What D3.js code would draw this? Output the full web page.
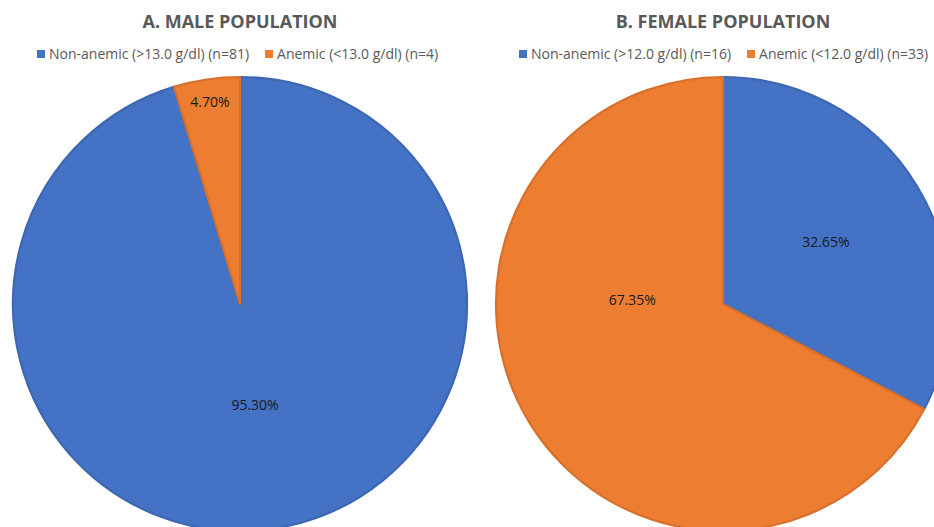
<!DOCTYPE html>
<html>
<head>
<meta charset="utf-8">
<script src="https://cdn.jsdelivr.net/npm/d3@7"></script>
<style>
  body { margin: 0; background: #fff; }
  text { font-family: "Open Sans", sans-serif; }
</style>
</head>
<body>
<div id="chart"></div>
<script>
const width = 934;
const height = 527;

// data
const categories = ["Non-anemic", "Anemic"];
const maleLegend = ["Non-anemic (>13.0 g/dl) (n=81)", "Anemic (<13.0 g/dl) (n=4)"];
const femaleLegend = ["Non-anemic (>12.0 g/dl) (n=16)", "Anemic (<12.0 g/dl) (n=33)"];
const maleValues = [95.30, 4.70];
const femaleValues = [32.65, 67.35];
const titles = ["A. MALE POPULATION", "B. FEMALE POPULATION"];

const colors = ["#4472C4", "#ED7D31"];
const strokes = ["#3D67B2", "#D8702B"];

// label placement inside each slice: [fraction along slice, fraction of radius]
const labelPlace = [
  [[0.5, 0.45], [0.5, 0.9]],
  [[0.5, 0.53], [0.64, 0.4]]
];

const panels = [
  { cx: 240, cy: 304, r: 227, title: titles[0], legend: maleLegend, values: maleValues, legendX: 37 },
  { cx: 723, cy: 304, r: 227, title: titles[1], legend: femaleLegend, values: femaleValues, legendX: 519 }
];

const svg = d3.select("#chart").append("svg")
  .attr("width", width)
  .attr("height", height);

const pie = d3.pie().sort(null).value(d => d);

panels.forEach((p, pi) => {
  const g = svg.append("g");

  const arc = d3.arc().innerRadius(0).outerRadius(p.r);
  const arcs = pie(p.values);

  g.append("g")
    .attr("transform", "translate(" + p.cx + "," + p.cy + ")")
    .selectAll("path")
    .data(arcs)
    .join("path")
    .attr("d", arc)
    .attr("fill", (d, i) => colors[i])
    .attr("stroke", (d, i) => strokes[i])
    .attr("stroke-width", 2.2)
    .attr("stroke-linejoin", "round");

  // data labels
  g.append("g")
    .attr("transform", "translate(" + p.cx + "," + p.cy + ")")
    .selectAll("text")
    .data(arcs)
    .join("text")
    .attr("text-anchor", "middle")
    .attr("dy", "0.35em")
    .attr("font-size", 14)
    .attr("fill", "#1a1a1a")
    .attr("x", (d, i) => {
      const a = d.startAngle + (d.endAngle - d.startAngle) * labelPlace[pi][i][0];
      return Math.sin(a) * p.r * labelPlace[pi][i][1];
    })
    .attr("y", (d, i) => {
      const a = d.startAngle + (d.endAngle - d.startAngle) * labelPlace[pi][i][0];
      return -Math.cos(a) * p.r * labelPlace[pi][i][1];
    })
    .text(d => d.data.toFixed(2) + "%");

  // title
  g.append("text")
    .attr("x", p.cx)
    .attr("y", 28)
    .attr("text-anchor", "middle")
    .attr("font-size", 18)
    .attr("font-weight", "bold")
    .attr("fill", "#595959")
    .text(p.title);

  // legend
  const leg = g.append("g").attr("transform", "translate(" + p.legendX + ",0)");
  let x = 0;
  p.legend.forEach((label, i) => {
    leg.append("rect")
      .attr("x", x)
      .attr("y", 50)
      .attr("width", 8)
      .attr("height", 8)
      .attr("fill", colors[i]);
    const t = leg.append("text")
      .attr("x", x + 12)
      .attr("y", 59)
      .attr("font-size", 14)
      .attr("fill", "#595959")
      .text(label);
    x += 12 + t.node().getComputedTextLength() + 16;
  });
});
</script>
</body>
</html>
